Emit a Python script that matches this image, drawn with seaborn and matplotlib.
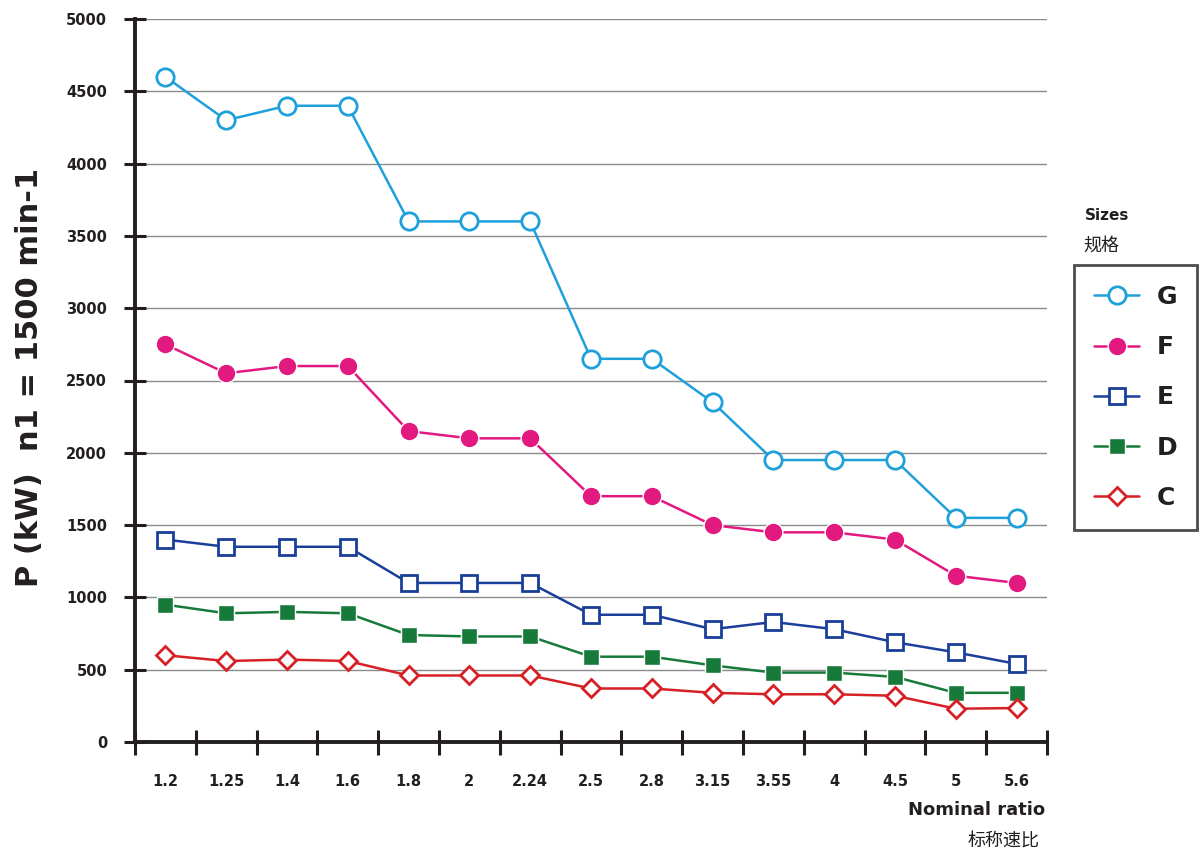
import pandas as pd
import matplotlib
matplotlib.use("Agg")
import matplotlib.pyplot as plt
import seaborn as sns
from matplotlib.ticker import FixedLocator

ratios = ["1.2", "1.25", "1.4", "1.6", "1.8", "2", "2.24", "2.5", "2.8",
          "3.15", "3.55", "4", "4.5", "5", "5.6"]

size_g = [4600, 4300, 4400, 4400, 3600, 3600, 3600, 2650, 2650, 2350, 1950, 1950, 1950, 1550, 1550]
size_f = [2750, 2550, 2600, 2600, 2150, 2100, 2100, 1700, 1700, 1500, 1450, 1450, 1400, 1150, 1100]
size_e = [1400, 1350, 1350, 1350, 1100, 1100, 1100, 880, 880, 780, 830, 780, 690, 620, 540]
size_d = [950, 890, 900, 890, 740, 730, 730, 590, 590, 530, 480, 480, 450, 340, 340]
size_c = [600, 560, 570, 560, 460, 460, 460, 370, 370, 340, 330, 330, 320, 230, 235]

sizes = ["G", "F", "E", "D", "C"]
series = [size_g, size_f, size_e, size_d, size_c]
colors = ["#1fa0db", "#e2197f", "#1a3f99", "#177a3b", "#d71f26"]
markers = ["o", "o", "s", "s", "D"]
filled = [False, True, False, True, False]
msizes = [12.5, 13.5, 12, 12, 9.5]

sns.set_style("white")
plt.rcParams['font.family'] = ['DejaVu Sans', 'Noto Sans CJK SC']

fig = plt.figure(figsize=(11.99, 8.57), dpi=100)
ax = fig.add_axes([135 / 1199, 1 - 742 / 857, (1047 - 135) / 1199, (742 - 19) / 857])

dark = "#231f20"
pos = list(range(len(ratios)))
handles = []
for name, vals, col, mk, fl, ms in zip(sizes, series, colors, markers, filled, msizes):
    df = pd.DataFrame({"pos": pos, "P": vals})
    sns.lineplot(data=df, x="pos", y="P", ax=ax, color=col, linewidth=1.8,
                 marker=mk, markersize=ms,
                 markerfacecolor=col if fl else "white",
                 markeredgecolor="white" if fl else col,
                 markeredgewidth=1.0 if fl else 2.0, zorder=3)
    handles.append(ax.lines[-1])

ax.set_xlim(-0.5, len(ratios) - 0.5)
ax.set_ylim(0, 5000)
ax.set_yticks(range(0, 5001, 500))
ax.set_yticklabels([str(v) for v in range(0, 5001, 500)], fontsize=10.5, fontweight="bold")
ax.yaxis.grid(True, color="#8a8a8a", linewidth=1.0)
ax.set_axisbelow(True)

ax.set_xticks(pos)
ax.set_xticklabels(ratios, fontsize=10.5, fontweight="bold")
ax.xaxis.set_minor_locator(FixedLocator([p - 0.5 for p in range(len(ratios) + 1)]))
ax.tick_params(axis="x", which="major", bottom=True, length=0, pad=23, labelcolor=dark)
ax.tick_params(axis="x", which="minor", bottom=True, direction="inout", length=18, width=2.2, color=dark)
ax.tick_params(axis="y", left=True, direction="inout", length=16, width=2.2, color=dark,
               pad=12, labelcolor=dark)

for s in ["top", "right"]:
    ax.spines[s].set_visible(False)
for s in ["left", "bottom"]:
    ax.spines[s].set_color(dark)
    ax.spines[s].set_linewidth(2.8)

ax.set_xlabel("")
ax.set_ylabel("P (kW)  n1 = 1500 min-1", fontsize=22, fontweight="bold", color=dark)
ax.yaxis.set_label_coords((44 - 135) / 912, (742 - 377) / 723)

fig.text(1045 / 1199, 1 - 810 / 857, "Nominal ratio", ha="right", va="center",
         fontsize=13, fontweight="bold", color=dark)
fig.text(1040 / 1199, 1 - 842 / 857, "标称速比", ha="right", va="center",
         fontsize=13, color=dark, family=['Noto Sans CJK SC', 'DejaVu Sans'])
fig.text(1085 / 1199, 1 - 215 / 857, "Sizes", ha="left", va="center",
         fontsize=11, fontweight="bold", color=dark)
fig.text(1083 / 1199, 1 - 246 / 857, "规格", ha="left", va="center",
         fontsize=13, color=dark, family=['Noto Sans CJK SC', 'DejaVu Sans'])

leg = fig.legend(handles, sizes, loc="upper left",
                 bbox_to_anchor=(1074 / 1199, 1 - 265 / 857), borderaxespad=0,
                 frameon=True, fancybox=False, numpoints=1,
                 handlelength=1.8, handletextpad=0.7, labelspacing=1.05,
                 borderpad=0.8, prop={"size": 18, "weight": "bold"})
leg.get_frame().set_edgecolor(dark)
leg.get_frame().set_linewidth(2.0)
for t in leg.get_texts():
    t.set_color(dark)

fig.savefig("out.png", dpi=100)
